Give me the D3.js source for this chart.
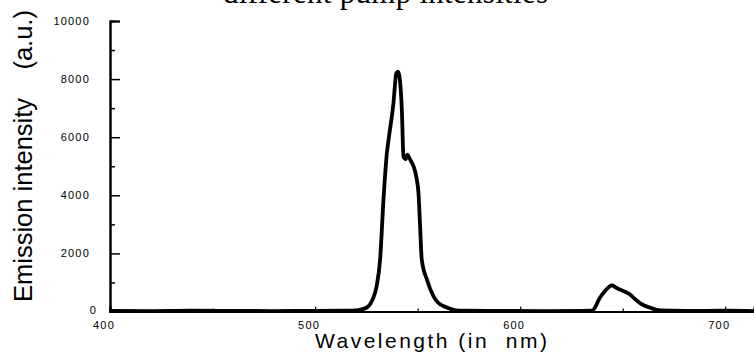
<!DOCTYPE html>
<html>
<head>
<meta charset="utf-8">
<script src="https://cdnjs.cloudflare.com/ajax/libs/d3/7.8.5/d3.min.js"></script>
<style>
  body { margin: 0; background: #fff; }
  svg { display: block; }
</style>
</head>
<body>
<div id="chart"></div>
<script>
// wavelength (nm) and emission intensity (a.u.)
let wavelength = [400, 420, 440, 460, 480, 500, 515, 521, 525, 528, 530, 531.7, 533.3, 535, 535.8, 538.2, 539.6, 540.4, 541.1, 542.3, 543.1, 544.2, 545, 545.8, 547, 548, 549.6, 550.4, 551.2, 552, 554.5, 557.7, 560, 564.2, 568, 572, 590, 610, 630, 635, 639, 642.3, 644.7, 646.3, 648.8, 650.5, 652, 653.7, 655.3, 657, 659, 663.4, 668.3, 680, 700, 714]
let intensity = [20, 15, 25, 20, 15, 20, 25, 50, 130, 410, 870, 1790, 3800, 5450, 5900, 7170, 8200, 8260, 8100, 6940, 5340, 5250, 5400, 5300, 5150, 5000, 4540, 4090, 2930, 1790, 1100, 530, 300, 140, 50, 25, 20, 15, 20, 25, 490, 780, 900, 840, 750, 700, 650, 580, 470, 370, 260, 130, 35, 20, 25, 15]

let xMajor = [400, 500, 600, 700]
let xMinor = [450, 550, 650]
let yMajor = [0, 2000, 4000, 6000, 8000, 10000]
let yMinor = [1000, 3000, 5000, 7000, 9000]

let titleText = 'different pump intensities'
let xTitle = 'Wavelength (in  nm)'
let yTitle = 'Emission intensity    (a.u.)'

let width = 754
let height = 356

let svg = d3.select('#chart').append('svg')
  .attr('width', width)
  .attr('height', height)

let x = d3.scaleLinear().domain([400, 714]).range([110, 754])
let y = d3.scaleLinear().domain([0, 10000]).range([311.5, 21])

// title, cut off by the top edge like in the original
svg.append('text')
  .attr('x', 223)
  .attr('y', 3)
  .attr('textLength', 325)
  .style('font-family', '"Liberation Serif", "Times New Roman", serif')
  .style('font-size', '31px')
  .text(titleText)

// x axis: major ticks with labels, minor ticks without
let xAxis = svg.append('g').attr('transform', 'translate(0,' + y(0) + ')')
xAxis.call(d3.axisTop(x).tickValues(xMajor).tickSize(5).tickFormat(''))
xAxis.append('g').call(d3.axisTop(x).tickValues(xMinor).tickSize(3).tickFormat(''))
xAxis.selectAll('.domain').attr('stroke-width', 2)
xAxis.selectAll('line').attr('stroke-width', 1.2)
xAxis.selectAll('.xlab')
  .data(xMajor)
  .enter()
  .append('text')
  .attr('class', 'xlab')
  .attr('fill', '#000')
  .attr('x', d => x(d) - 6)
  .attr('y', 17)
  .attr('text-anchor', 'middle')
  .style('font-family', '"Liberation Sans", Arial, sans-serif')
  .style('font-size', '11px')
  .style('letter-spacing', '1.2px')
  .text(d => d)

// y axis
let yAxis = svg.append('g').attr('transform', 'translate(' + x(400) + ',0)')
yAxis.call(d3.axisRight(y).tickValues(yMajor).tickSize(10).tickFormat(''))
yAxis.append('g').call(d3.axisRight(y).tickValues(yMinor).tickSize(5).tickFormat(''))
yAxis.selectAll('.domain').attr('stroke-width', 2)
yAxis.selectAll('line').attr('stroke-width', 1.5)
yAxis.selectAll('.ylab')
  .data(yMajor)
  .enter()
  .append('text')
  .attr('class', 'ylab')
  .attr('fill', '#000')
  .attr('x', d => d == 0 ? -13 : -20)
  .attr('y', d => y(d) + (d == 0 ? 2 : 4))
  .attr('text-anchor', 'end')
  .style('font-family', '"Liberation Sans", Arial, sans-serif')
  .style('font-size', '11px')
  .style('letter-spacing', '1.2px')
  .text(d => d)

// the spectrum (several pump intensities drawn on top of each other)
let pts = wavelength.map((w, i) => [w, intensity[i]])
let line = d3.line()
  .x(d => x(d[0]))
  .y(d => y(d[1]))
  .curve(d3.curveMonotoneX)

svg.append('path')
  .datum(pts)
  .attr('fill', 'none')
  .attr('stroke', '#000')
  .attr('stroke-width', 3.8)
  .attr('stroke-linejoin', 'round')
  .attr('d', line)

// axis titles
svg.append('text')
  .attr('x', 315)
  .attr('y', 348)
  .attr('textLength', 232)
  .style('font-family', '"Liberation Sans", Arial, sans-serif')
  .style('font-size', '21px')
  .style('white-space', 'pre')
  .text(xTitle)

svg.append('text')
  .attr('transform', 'translate(32,302) rotate(-90)')
  .style('font-family', '"Liberation Sans", Arial, sans-serif')
  .style('font-size', '25.5px')
  .style('white-space', 'pre')
  .text(yTitle)
</script>
</body>
</html>
